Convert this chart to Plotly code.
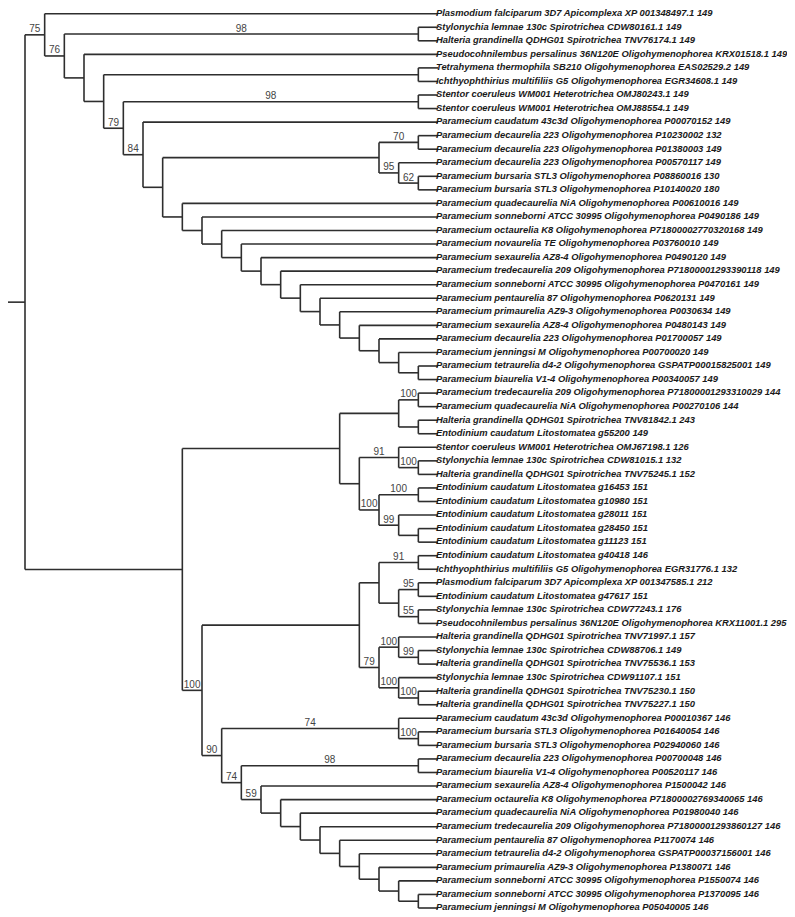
import plotly.graph_objects as go

# ---------------- data ----------------
LEAF_LABELS = [
    "Plasmodium falciparum 3D7 Apicomplexa XP 001348497.1 149",
    "Stylonychia lemnae 130c Spirotrichea CDW80161.1 149",
    "Halteria grandinella QDHG01 Spirotrichea TNV76174.1 149",
    "Pseudocohnilembus persalinus 36N120E Oligohymenophorea KRX01518.1 149",
    "Tetrahymena thermophila SB210 Oligohymenophorea EAS02529.2 149",
    "Ichthyophthirius multifiliis G5 Oligohymenophorea EGR34608.1 149",
    "Stentor coeruleus WM001 Heterotrichea OMJ80243.1 149",
    "Stentor coeruleus WM001 Heterotrichea OMJ88554.1 149",
    "Paramecium caudatum 43c3d Oligohymenophorea P00070152 149",
    "Paramecium decaurelia 223 Oligohymenophorea P10230002 132",
    "Paramecium decaurelia 223 Oligohymenophorea P01380003 149",
    "Paramecium decaurelia 223 Oligohymenophorea P00570117 149",
    "Paramecium bursaria STL3 Oligohymenophorea P08860016 130",
    "Paramecium bursaria STL3 Oligohymenophorea P10140020 180",
    "Paramecium quadecaurelia NiA Oligohymenophorea P00610016 149",
    "Paramecium sonneborni ATCC 30995 Oligohymenophorea P0490186 149",
    "Paramecium octaurelia K8 Oligohymenophorea P71800002770320168 149",
    "Paramecium novaurelia TE Oligohymenophorea P03760010 149",
    "Paramecium sexaurelia AZ8-4 Oligohymenophorea P0490120 149",
    "Paramecium tredecaurelia 209 Oligohymenophorea P71800001293390118 149",
    "Paramecium sonneborni ATCC 30995 Oligohymenophorea P0470161 149",
    "Paramecium pentaurelia 87 Oligohymenophorea P0620131 149",
    "Paramecium primaurelia AZ9-3 Oligohymenophorea P0030634 149",
    "Paramecium sexaurelia AZ8-4 Oligohymenophorea P0480143 149",
    "Paramecium decaurelia 223 Oligohymenophorea P01700057 149",
    "Paramecium jenningsi M Oligohymenophorea P00700020 149",
    "Paramecium tetraurelia d4-2 Oligohymenophorea GSPATP00015825001 149",
    "Paramecium biaurelia V1-4 Oligohymenophorea P00340057 149",
    "Paramecium tredecaurelia 209 Oligohymenophorea P71800001293310029 144",
    "Paramecium quadecaurelia NiA Oligohymenophorea P00270106 144",
    "Halteria grandinella QDHG01 Spirotrichea TNV81842.1 243",
    "Entodinium caudatum Litostomatea g55200 149",
    "Stentor coeruleus WM001 Heterotrichea OMJ67198.1 126",
    "Stylonychia lemnae 130c Spirotrichea CDW81015.1 132",
    "Halteria grandinella QDHG01 Spirotrichea TNV75245.1 152",
    "Entodinium caudatum Litostomatea g16453 151",
    "Entodinium caudatum Litostomatea g10980 151",
    "Entodinium caudatum Litostomatea g28011 151",
    "Entodinium caudatum Litostomatea g28450 151",
    "Entodinium caudatum Litostomatea g11123 151",
    "Entodinium caudatum Litostomatea g40418 146",
    "Ichthyophthirius multifiliis G5 Oligohymenophorea EGR31776.1 132",
    "Plasmodium falciparum 3D7 Apicomplexa XP 001347585.1 212",
    "Entodinium caudatum Litostomatea g47617 151",
    "Stylonychia lemnae 130c Spirotrichea CDW77243.1 176",
    "Pseudocohnilembus persalinus 36N120E Oligohymenophorea KRX11001.1 295",
    "Halteria grandinella QDHG01 Spirotrichea TNV71997.1 157",
    "Stylonychia lemnae 130c Spirotrichea CDW88706.1 149",
    "Halteria grandinella QDHG01 Spirotrichea TNV75536.1 153",
    "Stylonychia lemnae 130c Spirotrichea CDW91107.1 151",
    "Halteria grandinella QDHG01 Spirotrichea TNV75230.1 150",
    "Halteria grandinella QDHG01 Spirotrichea TNV75227.1 150",
    "Paramecium caudatum 43c3d Oligohymenophorea P00010367 146",
    "Paramecium bursaria STL3 Oligohymenophorea P01640054 146",
    "Paramecium bursaria STL3 Oligohymenophorea P02940060 146",
    "Paramecium decaurelia 223 Oligohymenophorea P00700048 146",
    "Paramecium biaurelia V1-4 Oligohymenophorea P00520117 146",
    "Paramecium sexaurelia AZ8-4 Oligohymenophorea P1500042 146",
    "Paramecium octaurelia K8 Oligohymenophorea P71800002769340065 146",
    "Paramecium quadecaurelia NiA Oligohymenophorea P01980040 146",
    "Paramecium tredecaurelia 209 Oligohymenophorea P71800001293860127 146",
    "Paramecium pentaurelia 87 Oligohymenophorea P1170074 146",
    "Paramecium tetraurelia d4-2 Oligohymenophorea GSPATP00037156001 146",
    "Paramecium primaurelia AZ9-3 Oligohymenophorea P1380071 146",
    "Paramecium sonneborni ATCC 30995 Oligohymenophorea P1550074 146",
    "Paramecium sonneborni ATCC 30995 Oligohymenophorea P1370095 146",
    "Paramecium jenningsi M Oligohymenophorea P05040005 146",
]

# Topology (Newick, leaves referenced by index into LEAF_LABELS, support values as node labels)
UPPER_CLADE = (
    "(0,((1,2)98,(3,((4,5),((6,7)98,(8,("
    "((9,10)70,(11,(12,13)62)95),"
    "(14,(15,(16,(17,(18,(19,(20,(21,(22,(23,(24,(25,(26,27)))))))))))))"
    "))84)79)))76)75"
)
LOWER_CLADE = (
    "((((28,29)100,(30,31)),((32,(33,34)100)91,((35,36)100,(37,(38,39))99)100)),"
    "((((40,41)91,((42,43)95,(44,45)55)),((46,(47,48)99)100,(49,(50,51)100)100)79),"
    "((52,(53,54)100)74,((55,56)98,(57,(58,(59,(60,(61,(62,(63,(64,(65,66)))))))))59)74)90)100))"
)
NEWICK = "(" + UPPER_CLADE + "," + LOWER_CLADE + ");"


# ---------------- tree parsing / layout ----------------
def parse_newick(s):
    s = s.replace(" ", "").rstrip(";")
    pos = 0

    def node():
        nonlocal pos
        if s[pos] == "(":
            pos += 1
            children = [node()]
            while s[pos] == ",":
                pos += 1
                children.append(node())
            pos += 1  # ')'
            start = pos
            while pos < len(s) and s[pos] not in ",)":
                pos += 1
            return {"children": children, "support": s[start:pos]}
        start = pos
        while s[pos] not in ",)":
            pos += 1
        return {"leaf": int(s[start:pos])}

    return node()


tree = parse_newick(NEWICK)


def height(n):
    if "leaf" in n:
        n["h"] = 0
    else:
        n["h"] = 1 + max(height(c) for c in n["children"])
    return n["h"]


H = height(tree)


def layout(n):
    n["x"] = H - n["h"]
    if "leaf" in n:
        n["y"] = n["leaf"]
    else:
        for c in n["children"]:
            layout(c)
        n["y"] = (n["children"][0]["y"] + n["children"][-1]["y"]) / 2


layout(tree)

lx, ly = [], []
sup_x, sup_y, sup_t = [], [], []
leaf_x, leaf_y, leaf_t = [], [], []

# root stub
lx += [tree["x"] - 1, tree["x"], None]
ly += [tree["y"], tree["y"], None]


def collect(n):
    if "leaf" in n:
        leaf_x.append(n["x"])
        leaf_y.append(n["y"])
        leaf_t.append(LEAF_LABELS[n["leaf"]])
        return
    ch = n["children"]
    lx.extend([n["x"], n["x"], None])
    ly.extend([ch[0]["y"], ch[-1]["y"], None])
    for c in ch:
        lx.extend([n["x"], c["x"], None])
        ly.extend([c["y"], c["y"], None])
        if "children" in c and c["support"]:
            sup_x.append((n["x"] + c["x"]) / 2)
            sup_y.append(c["y"])
            sup_t.append(c["support"])
        collect(c)


collect(tree)

# pixel mapping (page body has an 8px margin): root at 25px, tips at 438px,
# first leaf at 13.7px, leaf spacing 13.55px
OFF = 8
W, HGT = 795 - OFF, 917 - OFF
XSTEP = 413 / H
YSTEP = 13.55
X0 = 25 - OFF
Y0 = 13.7 - OFF

fig = go.Figure()
fig.add_trace(go.Scatter(
    x=lx, y=ly, mode="lines",
    line=dict(color="#2e2e2e", width=1.6),
    hoverinfo="skip", showlegend=False,
))
fig.add_trace(go.Scatter(
    x=[v - 2.0 / XSTEP for v in leaf_x], y=leaf_y, mode="text", text=leaf_t,
    textposition="middle right",
    textfont=dict(family="Liberation Sans, Arial, sans-serif", size=9.4,
                  color="#1a1a1a", weight="bold", style="italic"),
    hoverinfo="skip", showlegend=False,
))
fig.add_trace(go.Scatter(
    x=sup_x, y=sup_y, mode="text", text=sup_t,
    textposition="top center",
    textfont=dict(family="Liberation Sans, Arial, sans-serif", size=10, color="#444444"),
    hoverinfo="skip", showlegend=False,
))

fig.update_layout(
    width=W, height=HGT,
    margin=dict(l=0, r=0, t=0, b=0),
    paper_bgcolor="white", plot_bgcolor="white",
    xaxis=dict(range=[-X0 / XSTEP, (W - X0) / XSTEP], visible=False, fixedrange=True),
    yaxis=dict(range=[(HGT - Y0) / YSTEP, -Y0 / YSTEP], visible=False, fixedrange=True),
)
fig.write_html("out.html")
